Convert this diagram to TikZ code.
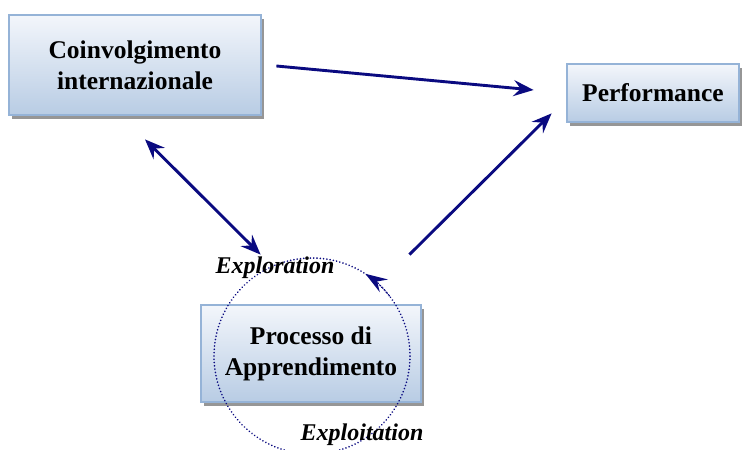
\documentclass[tikz,border=0pt]{standalone}
\usepackage{fontspec}
\setmainfont{Liberation Serif}
\usetikzlibrary{arrows.meta,shadings}
\definecolor{navyline}{RGB}{10,10,128}
\definecolor{boxedge}{RGB}{149,179,215}
\definecolor{boxtop}{RGB}{243,246,251}
\definecolor{boxbot}{RGB}{184,204,228}
\definecolor{shadowgray}{RGB}{150,150,150}
\tikzset{
  conceptbox/.style={rectangle, draw=boxedge, line width=2.8pt,
    top color=boxtop, bottom color=boxbot, align=center, inner sep=0pt,
    font=\fontsize{25.5}{31}\selectfont\bfseries,
    preaction={fill=shadowgray, transform canvas={shift={(3pt,-4pt)}}}},
  flowarrow/.style={draw=navyline, line width=2.9pt,
    -{Stealth[length=20pt,width=16pt,inset=7pt]}},
  botharrow/.style={draw=navyline, line width=2.9pt,
    {Stealth[length=20pt,width=16pt,inset=7pt]}-{Stealth[length=20pt,width=16pt,inset=7pt]}},
  cycleline/.style={draw=navyline, line width=1.8pt, line cap=round,
    dash pattern=on 0.01pt off 3.3pt},
  phase/.style={font=\fontsize{24}{26}\selectfont\bfseries\itshape, inner sep=1pt}
}
\begin{document}
\begin{tikzpicture}[x=1pt,y=-1pt]
  \fill[white] (0,0) rectangle (742,450);
  \useasboundingbox (0,0) rectangle (742,450);

  % concept boxes
  \node[conceptbox, minimum width=252pt, minimum height=100pt] (coin) at (135,65)
    {Coinvolgimento\\internazionale};
  \node[conceptbox, minimum width=172pt, minimum height=58pt] (perf) at (653,93)
    {Performance};
  \node[conceptbox, minimum width=220pt, minimum height=97pt] (proc) at (311,353.5)
    {Processo di\\Apprendimento};

  % learning cycle around the process box
  \node[circle, cycleline, minimum size=196pt, inner sep=0pt] (cyc) at (312,356) {};
  \draw[cycleline, -{Stealth[length=22pt,width=15pt,inset=8pt]}]
    ([shift={(-38:98)}]cyc.center) arc[start angle=-38, end angle=-57, radius=98];

  % relations
  \draw[flowarrow] ([shift={(14,1)}]coin.east) -- ([shift={(-32,-3)}]perf.west);
  \draw[flowarrow] ([shift={(-13,-49)}]proc.north east) -- ([shift={(-14,-10)}]perf.south west);
  \draw[botharrow] ([shift={(10,23)}]coin.south) -- ([shift={(61,-49)}]proc.north west);

  % phase labels
  \node[phase] (explor) at (275,268) {Exploration};
  \node[phase] (exploit) at (362,435) {Exploitation};
\end{tikzpicture}
\end{document}
